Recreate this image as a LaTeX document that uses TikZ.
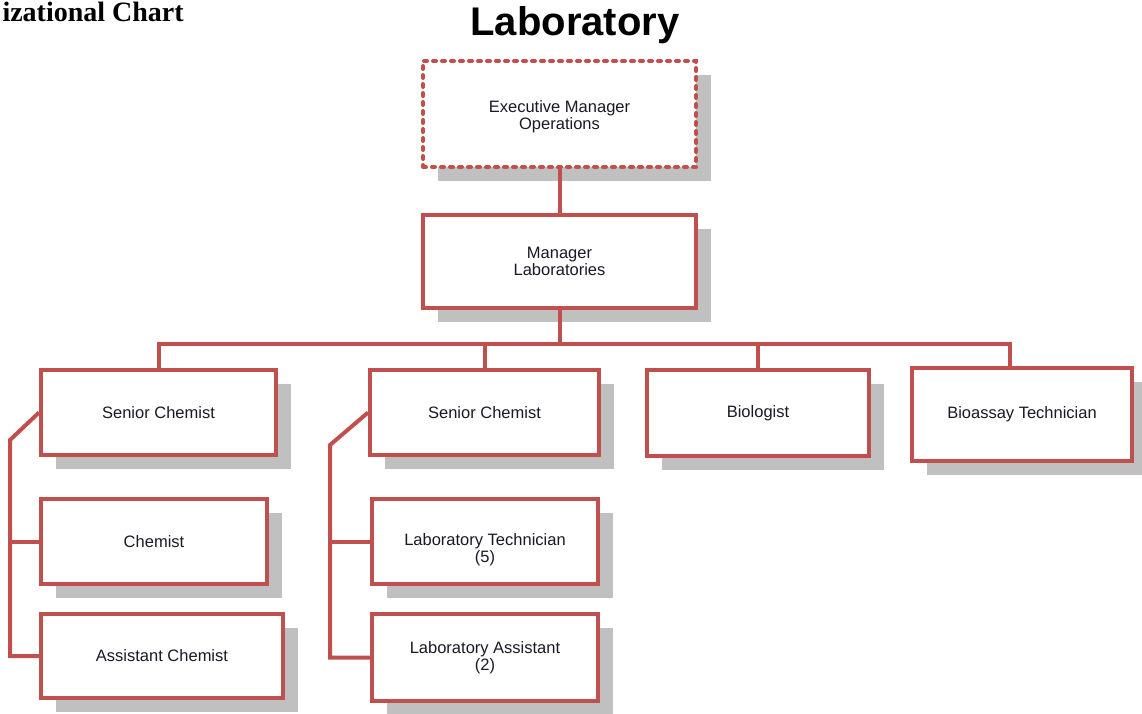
\documentclass[tikz,border=0pt]{standalone}
\usepackage{fontspec}
\setmainfont{Liberation Sans}
\newfontfamily\headserif{Liberation Serif}
\usetikzlibrary{positioning,shadows}
\definecolor{orgred}{RGB}{192,80,77}
\definecolor{shgray}{RGB}{192,192,192}
\definecolor{txtdark}{RGB}{25,25,40}
\tikzset{
  posbox/.style={draw=orgred, line width=4pt, fill=white, inner sep=0pt, align=center,
                 text=txtdark, font=\fontsize{16.5}{17}\selectfont,
                 drop shadow={shadow xshift=15pt, shadow yshift=-14pt, opacity=1, fill=shgray}},
  topbox/.style={posbox, dash pattern=on 3pt off 6pt, line cap=round},
  conn/.style={orgred, line width=4pt},
  ttl/.style={font=\bfseries\fontsize{40}{40}\selectfont, anchor=base},
  hdr/.style={font=\headserif\bfseries\fontsize{28}{28}\selectfont, anchor=base west},
}

\begin{document}
\begin{tikzpicture}[x=1pt, y=-1pt]
  \useasboundingbox (0,0) rectangle (1142,713);
  % headings
  \node[hdr] (head) at (-1,21) {izational Chart};
  \node[ttl] (title) at (575,35) {Laboratory};
  % positions
  \node[topbox, minimum width=273pt, minimum height=106pt] (exec) at (559.5,114) {\rule{0pt}{18pt}Executive Manager\\Operations};
  \node[posbox, minimum width=273pt, minimum height=93pt] (mgr) at (559.5,261.5) {Manager\\Laboratories};
  \node[posbox, minimum width=235pt, minimum height=85pt] (sc1) at (158.5,412.5) {Senior Chemist};
  \node[posbox, minimum width=229pt, minimum height=85pt] (sc2) at (484.5,412.5) {Senior Chemist};
  \node[posbox, minimum width=222pt, minimum height=86pt] (bio) at (758,413) {Biologist};
  \node[posbox, minimum width=220pt, minimum height=93pt] (ba) at (1022,414.5) {Bioassay Technician};
  \node[posbox, minimum width=226pt, minimum height=85pt] (chem) at (154,541.5) {Chemist};
  \node[posbox, minimum width=242pt, minimum height=84pt] (asst) at (162,656) {Assistant Chemist};
  \node[posbox, minimum width=226pt, minimum height=85pt] (tech) at (485,541.5) {\rule{0pt}{28pt}Laboratory Technician\\(5)};
  \node[posbox, minimum width=226pt, minimum height=87pt] (labasst) at (485,657.5) {Laboratory Assistant\\(2)};
  % lines
  \coordinate (bus) at (559.5,344);
  \coordinate (k1) at (10,440);
  \coordinate (k2) at (330,445);
  \draw[conn] (exec) -- (mgr);
  \draw[conn] (mgr.south) -- (bus) -| (sc1.north);
  \draw[conn] (bus) -| (sc2.north);
  \draw[conn] (bus) -| (bio.north);
  \draw[conn] (bus) -| ([xshift=-12pt]ba.north);
  \draw[conn] (sc1.west) -- (k1) |- (asst.west);
  \draw[conn] (k1 |- chem.west) -- (chem.west);
  \draw[conn] (sc2.west) -- (k2) |- (labasst.west);
  \draw[conn] (k2 |- tech.west) -- (tech.west);
\end{tikzpicture}
\end{document}
